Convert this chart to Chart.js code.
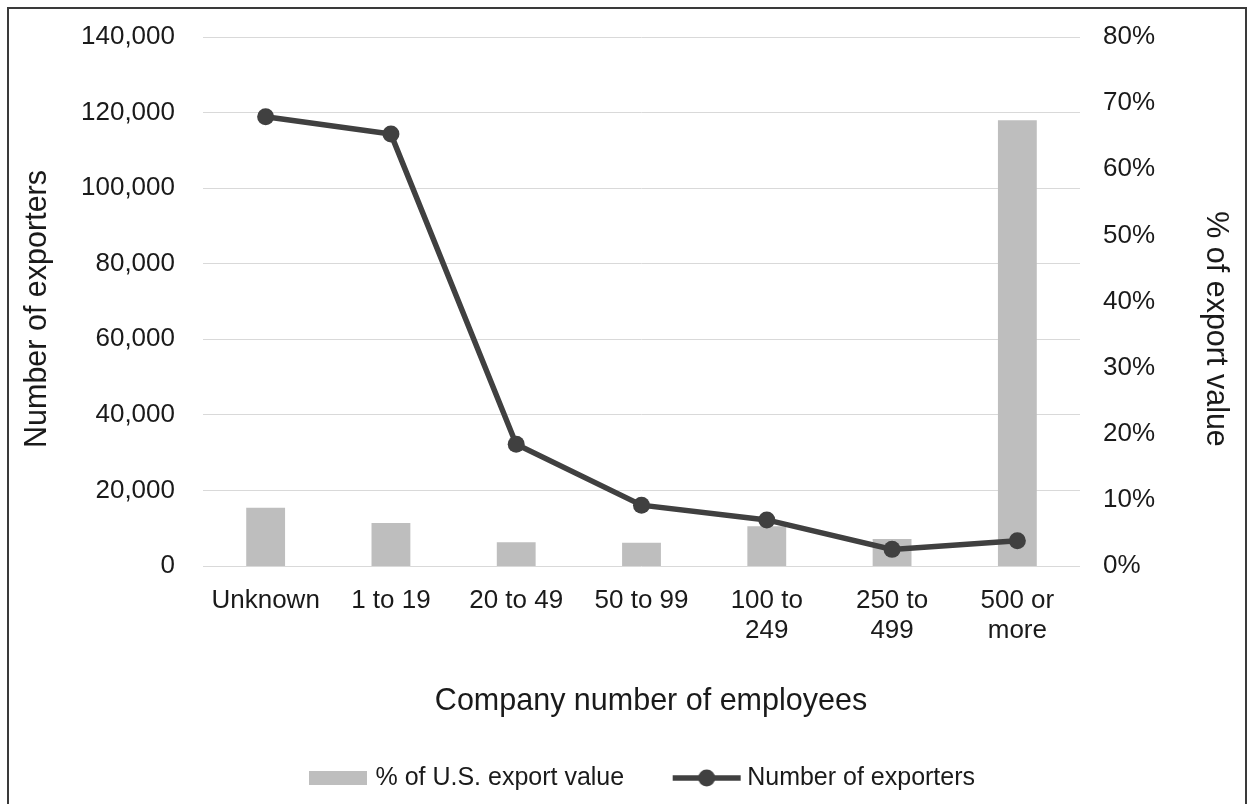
<!DOCTYPE html>
<html>
<head>
<meta charset="utf-8">
<script src="https://cdn.jsdelivr.net/npm/chart.js@4"></script>
<style>
  html, body { margin: 0; padding: 0; background: #fff; overflow: hidden; }
  #frame { position: absolute; left: 7px; top: 7px; width: 1236px; height: 830px; border: 2px solid #3a3a3a; }
  canvas { display: block; }
</style>
</head>
<body>
<div id="frame"><canvas id="chart" width="1236" height="830"></canvas></div>
<script>
const categories = ['Unknown', '1 to 19', '20 to 49', '50 to 99', ['100 to', '249'], ['250 to', '499'], ['500 or', 'more']]
const exporters = [118900, 114300, 32200, 16100, 12200, 4400, 6700]
const exportShare = [8.8, 6.5, 3.6, 3.5, 6.0, 4.1, 67.4]
const leftTicks = { min: 0, max: 140000, step: 20000 }
const rightTicks = { min: 0, max: 80, step: 10 }
const axisTitles = { x: 'Company number of employees', y: 'Number of exporters', y1: '% of export value' }

const barColor = '#bebebe'
const lineColor = '#404040'
const textColor = '#1a1a1a'
const gridColor = '#d9d9d9'
const fontFamily = '"Liberation Sans", Arial, sans-serif'

// legend markers: grey block and line-with-dot, drawn as small canvases
// (78px wide, centred on a 62px legend box, so they reach close to the text)
function makeSwatch() {
  const c = document.createElement('canvas')
  c.width = 78; c.height = 14
  const g = c.getContext('2d')
  g.fillStyle = barColor
  g.fillRect(16, 0, 58, 14)
  return c
}
function makeLineMark() {
  const c = document.createElement('canvas')
  c.width = 78; c.height = 18
  const g = c.getContext('2d')
  g.strokeStyle = lineColor
  g.lineWidth = 5.5
  g.beginPath(); g.moveTo(8, 9); g.lineTo(76, 9); g.stroke()
  g.fillStyle = lineColor
  g.beginPath(); g.arc(42, 9, 8.5, 0, Math.PI * 2); g.fill()
  return c
}
const legendMarks = [makeSwatch(), makeLineMark()]

// vertical axes: fixed width, no extra room for half tick labels
const fixWidth = w => s => {
  s.width = w
  s.paddingTop = 0
  s.paddingBottom = 0
}

// axis titles, placed a little off the plot centre
const axisTitlePlugin = {
  id: 'axisTitles',
  afterDraw(chart) {
    const { ctx, chartArea: a, scales } = chart
    const midX = (a.left + a.right) / 2
    const midY = (a.top + a.bottom) / 2
    ctx.save()
    ctx.font = `30.5px ${fontFamily}`
    ctx.fillStyle = textColor
    ctx.textAlign = 'center'
    ctx.textBaseline = 'middle'
    ctx.fillText(axisTitles.x, midX + 9.5, scales.x.top + 136)

    ctx.save()
    ctx.translate(scales.y.left + 7, midY + 7.5)
    ctx.rotate(-Math.PI / 2)
    ctx.fillText(axisTitles.y, 0, 0)
    ctx.restore()

    ctx.translate(scales.y1.right - 30, midY + 27.5)
    ctx.rotate(Math.PI / 2)
    ctx.fillText(axisTitles.y1, 0, 0)
    ctx.restore()
  }
}

const canvas = document.getElementById('chart')

new Chart(canvas, {
  data: {
    labels: categories,
    datasets: [
      {
        type: 'bar',
        label: '% of U.S. export value',
        data: exportShare,
        yAxisID: 'y1',
        backgroundColor: barColor,
        borderWidth: 0,
        categoryPercentage: 1,
        barPercentage: 0.31,
        order: 2
      },
      {
        type: 'line',
        label: 'Number of exporters',
        data: exporters,
        yAxisID: 'y',
        borderColor: lineColor,
        borderWidth: 5.5,
        pointRadius: 8.5,
        pointBackgroundColor: lineColor,
        pointBorderColor: lineColor,
        pointBorderWidth: 0,
        tension: 0,
        order: 1
      }
    ]
  },
  options: {
    responsive: false,
    animation: false,
    devicePixelRatio: 1,
    layout: { padding: { top: 28, right: 0, bottom: 38.5, left: 22 } },
    plugins: {
      tooltip: { enabled: false },
      legend: {
        position: 'bottom',
        labels: {
          usePointStyle: true,
          pointStyleWidth: 62,
          padding: 48.5,
          color: textColor,
          font: { family: fontFamily, size: 25 },
          generateLabels: chart => chart.data.datasets.map((ds, i) => ({
            text: ds.label,
            pointStyle: legendMarks[i],
            fillStyle: 'transparent',
            strokeStyle: 'transparent',
            lineWidth: 0,
            fontColor: textColor,
            hidden: false,
            datasetIndex: i
          }))
        }
      }
    },
    scales: {
      x: {
        grid: { display: false },
        border: { display: false },
        ticks: {
          color: textColor,
          font: { family: fontFamily, size: 26, lineHeight: 1.15 },
          padding: 12,
          maxRotation: 0,
          autoSkip: false
        },
        afterFit: s => { s.height = 151 }
      },
      y: {
        position: 'left',
        min: leftTicks.min,
        max: leftTicks.max,
        grid: { color: gridColor, lineWidth: 1, drawTicks: false },
        border: { display: false },
        ticks: {
          stepSize: leftTicks.step,
          color: textColor,
          font: { family: fontFamily, size: 26 },
          padding: 28,
          callback: v => v.toLocaleString('en-US')
        },
        afterFit: fixWidth(172)
      },
      y1: {
        position: 'right',
        min: rightTicks.min,
        max: rightTicks.max,
        grid: { display: false, drawTicks: false },
        border: { display: false },
        ticks: {
          stepSize: rightTicks.step,
          color: textColor,
          font: { family: fontFamily, size: 26 },
          padding: 23,
          callback: v => v + '%'
        },
        afterFit: fixWidth(165)
      }
    }
  },
  plugins: [axisTitlePlugin]
})
</script>
</body>
</html>
